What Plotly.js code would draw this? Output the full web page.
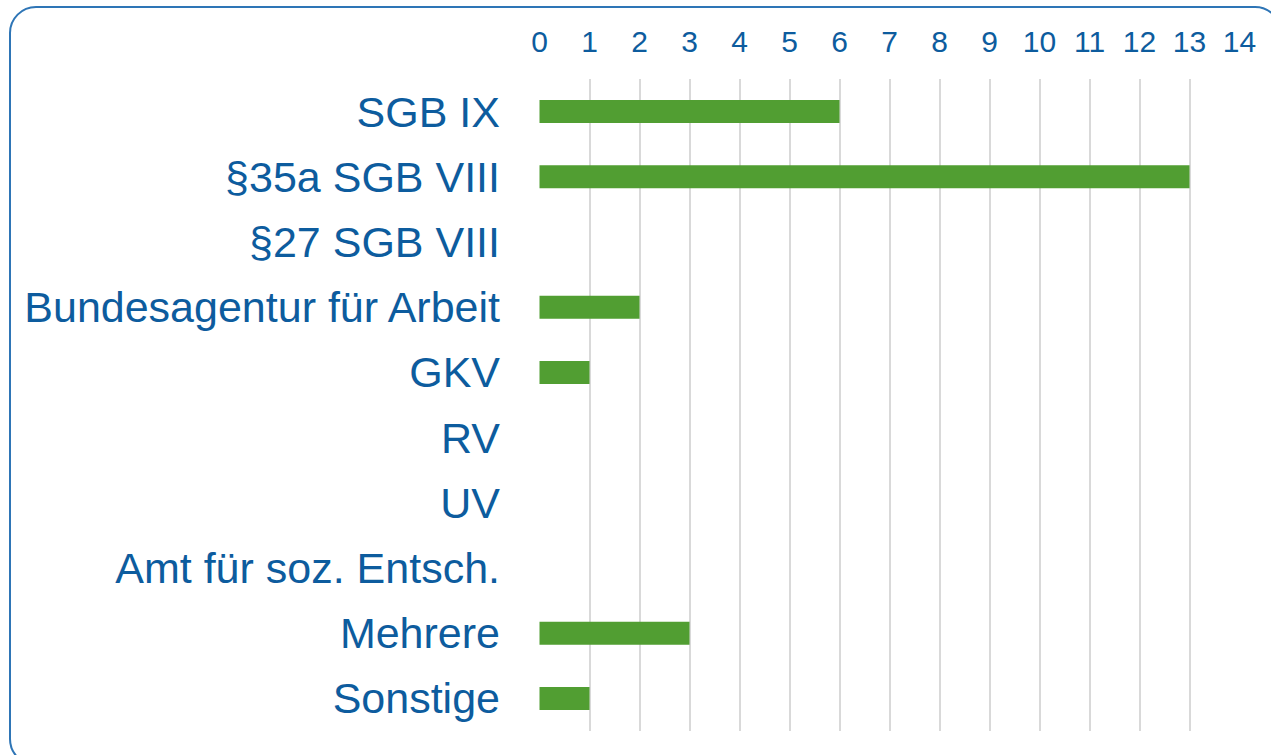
<!DOCTYPE html>
<html>
<head>
<meta charset="utf-8">
<script src="https://cdn.plot.ly/plotly-3.0.1.min.js"></script>
<style>
  html, body { margin: 0; padding: 0; overflow: hidden; background: #ffffff; }
  #wrap { position: relative; width: 1271px; height: 755px; overflow: hidden; }
  #chart { position: absolute; left: 0; top: 0; width: 1271px; height: 755px; }
  #frame { position: absolute; left: 9px; top: 6px; width: 1273px; height: 760px;
           box-sizing: border-box; border: 2px solid #2e75b6; border-radius: 27px;
           pointer-events: none; }
</style>
</head>
<body>
<div id="wrap">
  <div id="chart"></div>
  <div id="frame"></div>
</div>
<script>
const categories = ["SGB IX", "§35a SGB VIII", "§27 SGB VIII", "Bundesagentur für Arbeit", "GKV", "RV", "UV", "Amt für soz. Entsch.", "Mehrere", "Sonstige"];
const values = [6, 13, 0, 2, 1, 0, 0, 0, 3, 1];
const xTickValues = [0,1,2,3,4,5,6,7,8,9,10,11,12,13,14];

const textColor = "#0d5c9e";
const barColor = "#519e32";

const trace = {
  type: "bar",
  orientation: "h",
  x: values,
  y: categories,
  marker: { color: barColor, line: { width: 0 } },
  hoverinfo: "x+y"
};

const layout = {
  width: 1271,
  height: 755,
  margin: { l: 539, r: 31, t: 79, b: 24, pad: 0 },
  paper_bgcolor: "rgba(0,0,0,0)",
  plot_bgcolor: "rgba(0,0,0,0)",
  showlegend: false,
  bargap: 0.647,
  font: { family: "Liberation Sans, Arial, sans-serif", color: textColor },
  xaxis: {
    side: "top",
    range: [-0.01, 14.01],
    tickvals: xTickValues,
    ticktext: xTickValues.map(String),
    tickfont: { size: 30, color: textColor },
    showgrid: true,
    gridcolor: "#d9d9d9",
    gridwidth: 2,
    zeroline: false,
    showline: false,
    ticks: "",
    ticklabelstandoff: 20,
    fixedrange: true
  },
  yaxis: {
    type: "category",
    autorange: "reversed",
    tickfont: { size: 43, color: textColor },
    showgrid: false,
    zeroline: false,
    showline: false,
    ticks: "",
    ticklabelstandoff: 38,
    fixedrange: true
  }
};

Plotly.newPlot("chart", [trace], layout, { displayModeBar: false, staticPlot: true });
</script>
</body>
</html>
